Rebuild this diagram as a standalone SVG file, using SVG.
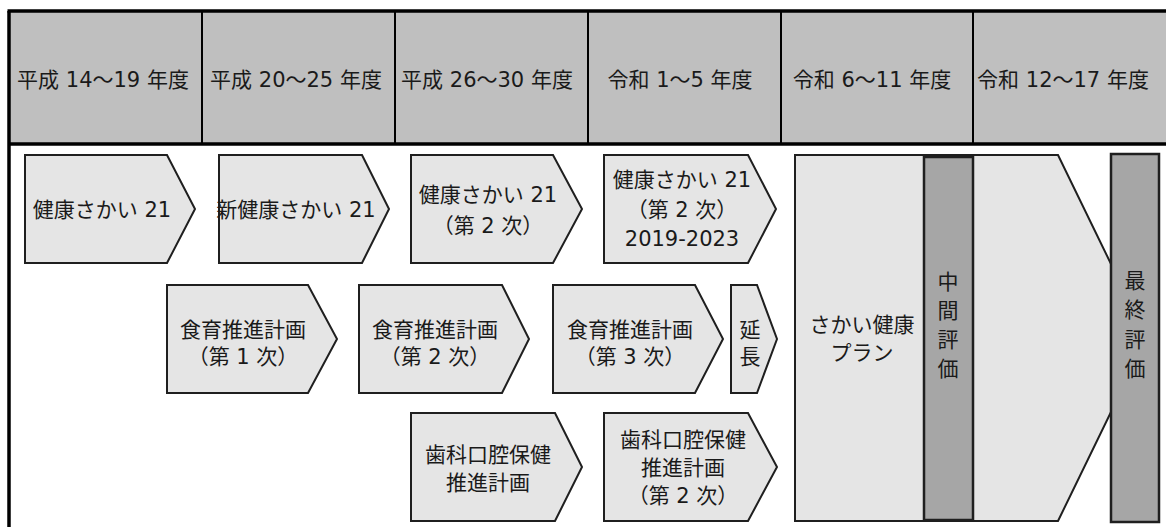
<svg xmlns="http://www.w3.org/2000/svg" width="1166" height="527" viewBox="0 0 1166 527">
<style>
text{font-family:"DejaVu Sans","Noto Sans CJK JP",sans-serif;font-size:21px;fill:#1a1a1a;text-anchor:middle;dominant-baseline:central}
.arr{fill:#e5e5e5;stroke:#1f1f1f;stroke-width:2;stroke-linejoin:miter}
.bar{fill:#a6a6a6;stroke:#1f1f1f;stroke-width:2.5}
.hdr{fill:#bfbfbf}
.frame{stroke:#000;stroke-width:3.5;fill:none}
.div{stroke:#000;stroke-width:2}
</style>
<rect width="1166" height="527" fill="#fff"/>
<g id="header">
<rect class="hdr" x="9" y="11" width="1157" height="133"/>
<line class="div" x1="202" y1="11" x2="202" y2="144"/>
<line class="div" x1="395" y1="11" x2="395" y2="144"/>
<line class="div" x1="588" y1="11" x2="588" y2="144"/>
<line class="div" x1="781" y1="11" x2="781" y2="144"/>
<line class="div" x1="973" y1="11" x2="973" y2="144"/>
<text x="103" y="80">平成 14～19 年度</text>
<text x="296" y="80">平成 20～25 年度</text>
<text x="487" y="80">平成 26～30 年度</text>
<text x="680" y="80">令和 1～5 年度</text>
<text x="872" y="80">令和 6～11 年度</text>
<text x="1063" y="80">令和 12～17 年度</text>
</g>
<g id="frame">
<line class="frame" x1="7.5" y1="11" x2="1166" y2="11"/>
<line class="frame" x1="9" y1="11" x2="9" y2="527"/>
<line class="frame" x1="9" y1="144" x2="1166" y2="144"/>
</g>
<g id="connectors"></g>
<g id="n1"><polygon class="arr" points="25,155 167,155 195,209 167,263 25,263"/><text x="102" y="210">健康さかい 21</text></g>
<g id="n2"><polygon class="arr" points="219,155 362,155 389,209 362,263 219,263"/><text x="296" y="210">新健康さかい 21</text></g>
<g id="n3"><polygon class="arr" points="411,155 553,155 582,209 553,263 411,263"/><text x="488" y="195">健康さかい 21</text><text x="488" y="226">（第 2 次）</text></g>
<g id="n4"><polygon class="arr" points="604,155 748,155 776,209 748,263 604,263"/><text x="682" y="180">健康さかい 21</text><text x="682" y="210">（第 2 次）</text><text x="682" y="239">2019-2023</text></g>
<g id="n5"><polygon class="arr" points="167,285 308,285 337,339 308,393 167,393"/><text x="243" y="330">食育推進計画</text><text x="243" y="357">（第 1 次）</text></g>
<g id="n6"><polygon class="arr" points="359,285 502,285 529,339 502,393 359,393"/><text x="435" y="330">食育推進計画</text><text x="435" y="357">（第 2 次）</text></g>
<g id="n7"><polygon class="arr" points="553,285 695,285 723,339 695,393 553,393"/><text x="630" y="330">食育推進計画</text><text x="630" y="357">（第 3 次）</text></g>
<g id="n8"><polygon class="arr" points="731,285 757,285 777,339 757,393 731,393"/><text x="750" y="330">延</text><text x="750" y="357">長</text></g>
<g id="n9"><polygon class="arr" points="411,413 555,413 582,467 555,521 411,521"/><text x="488" y="455">歯科口腔保健</text><text x="488" y="483">推進計画</text></g>
<g id="n10"><polygon class="arr" points="604,413 748,413 777,467 748,521 604,521"/><text x="683" y="440">歯科口腔保健</text><text x="683" y="468">推進計画</text><text x="683" y="496">（第 2 次）</text></g>
<g id="plan"><polygon class="arr" points="795,155 1058,155 1147,338 1058,521 795,521"/><text x="862" y="325">さかい健康</text><text x="862" y="353">プラン</text></g>
<g id="mid"><rect class="bar" x="924" y="157" width="49" height="363"/><text x="948" y="282">中</text><text x="948" y="311">間</text><text x="948" y="340">評</text><text x="948" y="369">価</text></g>
<g id="final"><rect class="bar" x="1111" y="154" width="48" height="368"/><text x="1135" y="281">最</text><text x="1135" y="310">終</text><text x="1135" y="340">評</text><text x="1135" y="369">価</text></g>
</svg>
